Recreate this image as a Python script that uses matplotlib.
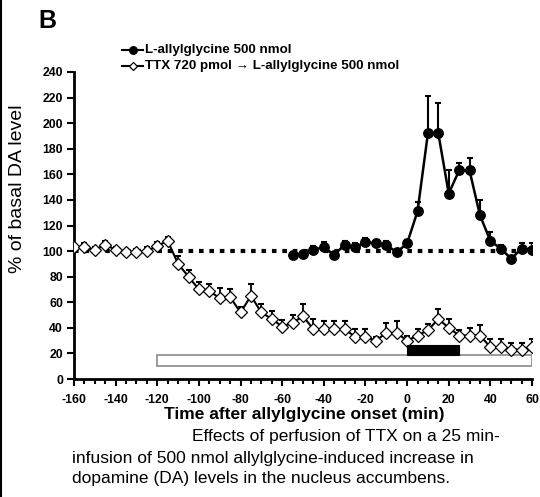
import matplotlib
matplotlib.use("Agg")
import matplotlib.pyplot as plt
from matplotlib.lines import Line2D
from matplotlib.patches import Rectangle
from matplotlib.ticker import MultipleLocator

plt.rcParams['font.family'] = ['Liberation Sans', 'DejaVu Sans']

# L-allylglycine 500 nmol (filled circles)
t_ag = list(range(-55, 65, 5))
ag_mean = [97, 98, 101, 103, 97, 105, 103, 107, 106, 105, 99, 106,
           131, 192, 192, 145, 163, 163, 128, 108, 102, 94, 102, 101]
ag_err = [2, 2, 3, 4, 2, 3, 3, 3, 3, 3, 2, 3,
          7, 29, 24, 18, 6, 10, 12, 7, 3, 2, 4, 5]

# TTX 720 pmol -> L-allylglycine 500 nmol (open diamonds)
t_ttx = list(range(-160, 65, 5))
ttx_mean = [103, 103, 101, 105, 101, 99, 99, 100, 104, 108,
            90, 80, 70, 69, 63, 64, 52, 65, 52, 47,
            41, 44, 49, 39, 39, 39, 39, 33, 33, 30,
            36, 36, 30, 34, 38, 47, 40, 34, 34, 34,
            25, 25, 23, 23, 25]
ttx_err = [2, 3, 2, 3, 2, 2, 3, 3, 3, 3,
           6, 5, 6, 5, 8, 6, 4, 9, 7, 6,
           5, 6, 10, 8, 6, 6, 6, 6, 6, 3,
           8, 9, 4, 5, 5, 8, 7, 4, 6, 8,
           6, 6, 5, 5, 6]

baseline = 100
ttx_period = (-120, 60)
ag_period = (0, 25)

legend_labels = ['L-allylglycine 500 nmol',
                 'TTX 720 pmol \u2192 L-allylglycine 500 nmol']
caption = ['Effects of perfusion of TTX on a 25 min-',
           'infusion of 500 nmol allylglycine-induced increase in',
           'dopamine (DA) levels in the nucleus accumbens.']

W, H = 540, 497
fig = plt.figure(figsize=(W / 100, H / 100), dpi=100)
ax = fig.add_axes([74 / W, 1 - 379 / H, (532 - 74) / W, (379 - 72) / H])

ax.plot([-160, 60], [baseline, baseline], color='black', lw=3,
        dashes=(1.1, 1.4), zorder=1, solid_capstyle='butt', dash_capstyle='butt')

ax.errorbar(t_ttx, ttx_mean, yerr=[[0] * len(ttx_err), ttx_err], fmt='none',
            ecolor='black', elinewidth=1.3, capsize=2.5, capthick=1.5, zorder=2)
ax.plot(t_ttx, ttx_mean, color='black', lw=1.5, marker='D', markersize=5.8,
        markerfacecolor='white', markeredgecolor='black', markeredgewidth=0.9,
        zorder=3)

ax.errorbar(t_ag, ag_mean, yerr=[[0] * len(ag_err), ag_err], fmt='none',
            ecolor='black', elinewidth=1.5, capsize=2.5, capthick=1.5, zorder=4)
ax.plot(t_ag, ag_mean, color='black', lw=1.8, marker='o', markersize=6.8,
        markerfacecolor='black', markeredgecolor='black', zorder=5)

ax.add_patch(Rectangle((ttx_period[0], 10), ttx_period[1] - ttx_period[0], 9,
                       facecolor='white', edgecolor='#8a8a8a', lw=1.2, zorder=2))
ax.add_patch(Rectangle((ag_period[0], 19), ag_period[1] - ag_period[0], 7.5,
                       facecolor='black', edgecolor='black', lw=0.8, zorder=3))

ax.set_xlim(-160, 60)
ax.set_ylim(0, 240)
for s in ['top', 'right']:
    ax.spines[s].set_visible(False)
for s in ['left', 'bottom']:
    ax.spines[s].set_linewidth(2)
ax.set_xticks(list(range(-160, 61, 20)))
ax.set_xticklabels([str(v) for v in range(-160, 61, 20)])
ax.xaxis.set_minor_locator(MultipleLocator(5))
ax.yaxis.set_major_locator(MultipleLocator(20))
ax.tick_params(axis='both', which='major', direction='out', length=5, width=1.5,
               labelsize=8.8, pad=3)
ax.tick_params(axis='x', which='minor', direction='out', length=3.5, width=1.5)
ax.tick_params(axis='x', which='major', pad=6)
for lab in ax.get_xticklabels() + ax.get_yticklabels():
    lab.set_fontweight('bold')

fig.text(304 / W, 1 - 415 / H, 'Time after allylglycine onset (min)', fontsize=12.5,
         fontweight='bold', ha='center', va='center')
fig.text(18 / W, 1 - 189 / H, '% of basal DA level', rotation=90, fontsize=14,
         ha='center', va='center')

# legend drawn by hand
for i, (lab, mk, fc) in enumerate(zip(legend_labels, ['o', 'D'], ['black', 'white'])):
    y = 1 - (50 + 16 * i) / H
    fig.add_artist(Line2D([122 / W, 143 / W], [y, y], color='black', lw=1.5,
                          transform=fig.transFigure))
    fig.add_artist(Line2D([132.5 / W], [y], marker=mk, markersize=5.5 if mk == 'o' else 4.5,
                          markerfacecolor=fc, markeredgecolor='black', markeredgewidth=0.9,
                          linestyle='none', transform=fig.transFigure))
    fig.text(145 / W, y, lab, fontsize=9.6, fontweight='bold', va='center', ha='left')

fig.text(38 / W, 1 - 21 / H, 'B', fontsize=18, fontweight='bold', va='center', ha='left')

fig.text(192 / W, 1 - 437 / H, caption[0], fontsize=12.5, va='center', ha='left')
fig.text(72 / W, 1 - 458 / H, caption[1], fontsize=12.5, va='center', ha='left')
fig.text(72 / W, 1 - 479 / H, caption[2], fontsize=12.5, va='center', ha='left')

fig.add_artist(Line2D([0.5 / W, 0.5 / W], [0, 1], color='black', lw=1.5,
                      transform=fig.transFigure))

fig.savefig('out.png', dpi=100)
